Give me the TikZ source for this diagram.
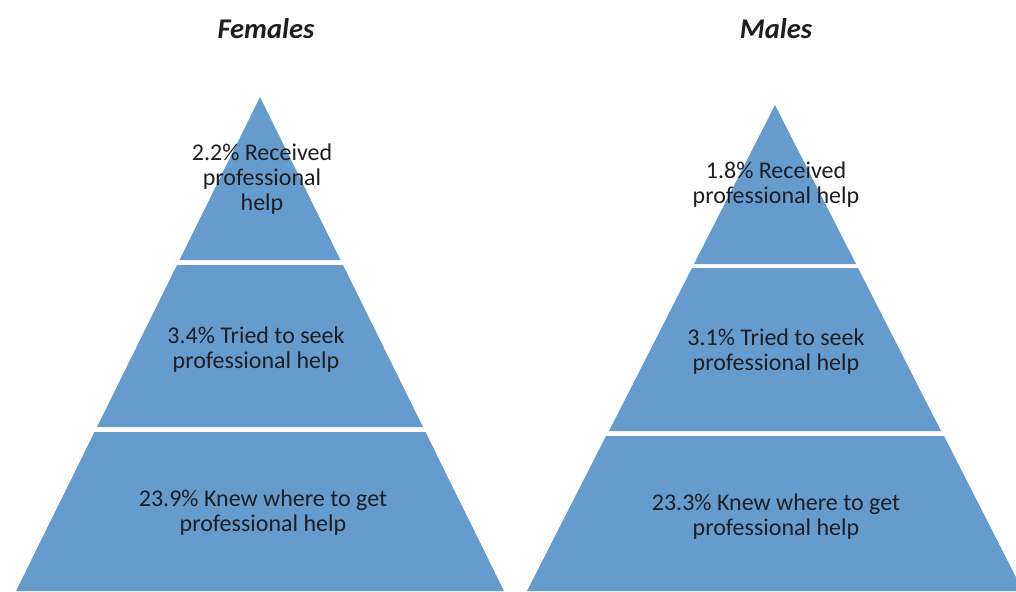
\documentclass[tikz,border=0pt]{standalone}
\usepackage{fontspec}
\setmainfont{Carlito}
\usepackage{tikz}
\usetikzlibrary{positioning}
\definecolor{PyramidBlue}{RGB}{101,156,205}
\definecolor{LabelInk}{RGB}{30,30,34}
\tikzset{
  tier/.style={fill=PyramidBlue},
  tierlabel/.style={align=center,inner sep=0pt,text=LabelInk,font=\fontsize{24}{25}\selectfont},
  sextitle/.style={inner sep=0pt,text=LabelInk,font=\fontsize{28.5}{30}\selectfont\bfseries\itshape}
}

\begin{document}
\begin{tikzpicture}[x=1pt,y=-1pt]
\useasboundingbox (0,0) rectangle (1016,591);
% Females
\node[sextitle] (ftitle) at (266,29) {Females};
\fill[tier] (260,97) -- (340.5,260) -- (179.5,260) -- cycle;
\fill[tier] (177,265) -- (343,265) -- (423,427) -- (97,427) -- cycle;
\fill[tier] (94.5,432) -- (425.5,432) -- (504,591) -- (16,591) -- cycle;
\node[tierlabel] (ftop) at (262,179) {2.2\% Received\\professional\\help};
\node[tierlabel] (fmid) at (256,350) {3.4\% Tried to seek\\professional help};
\node[tierlabel] (fbot) at (263,513) {23.9\% Knew where to get\\professional help};
% Males
\node[sextitle] (mtitle) at (776,29) {Males};
\fill[tier] (775,105) -- (856,264) -- (694,264) -- cycle;
\fill[tier] (692,268) -- (858,268) -- (941,431) -- (609,431) -- cycle;
\fill[tier] (606,436) -- (944,436) -- (1023,591) -- (527,591) -- cycle;
\node[tierlabel] (mtop) at (776,185) {1.8\% Received\\professional help};
\node[tierlabel] (mmid) at (776,352) {3.1\% Tried to seek\\professional help};
\node[tierlabel] (mbot) at (776,517) {23.3\% Knew where to get\\professional help};
\end{tikzpicture}
\end{document}
